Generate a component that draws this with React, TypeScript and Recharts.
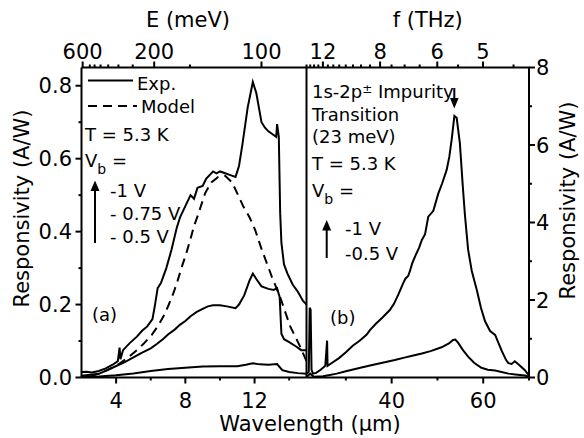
import React from "react";
import { LineChart, Line, XAxis, YAxis } from "recharts";

// ---- panel (a): 2–15 µm, left axis in A/W ----
const aWl1 = [2.0, 2.3, 2.6, 3.0, 3.4, 3.8, 4.1, 4.2, 4.25, 4.4, 4.8, 5.2, 5.5, 5.8, 6.1, 6.25, 6.4, 6.6, 6.9, 7.2, 7.5, 7.7, 8.0, 8.3, 8.5, 8.7, 9.0, 9.2, 9.4, 9.6, 9.8, 10.0, 10.3, 10.6, 10.9, 11.1, 11.3, 11.6, 11.9, 12.1, 12.4, 12.6, 12.8, 13.1, 13.25, 13.3, 13.4, 13.48, 13.55, 13.7, 13.9, 14.2, 14.5, 14.8, 15.0];
const aR1 = [0.015, 0.016, 0.014, 0.018, 0.025, 0.035, 0.045, 0.082, 0.05, 0.075, 0.095, 0.112, 0.128, 0.14, 0.16, 0.2, 0.245, 0.26, 0.3, 0.35, 0.41, 0.44, 0.47, 0.5, 0.49, 0.52, 0.525, 0.545, 0.555, 0.565, 0.56, 0.565, 0.56, 0.555, 0.55, 0.58, 0.64, 0.74, 0.81, 0.78, 0.7, 0.685, 0.675, 0.665, 0.66, 0.695, 0.66, 0.45, 0.37, 0.31, 0.285, 0.255, 0.235, 0.21, 0.2];

const aWl2 = [2.0, 3.0, 3.85, 4.5, 5.0, 5.5, 6.0, 6.35, 6.7, 7.0, 7.4, 7.7, 8.0, 8.3, 8.66, 9.0, 9.3, 9.6, 10.0, 10.4, 10.9, 11.1, 11.4, 11.7, 11.9, 12.1, 12.4, 12.8, 13.1, 13.3, 13.45, 13.55, 13.7, 14.0, 14.4, 14.7, 15.0];
const aR2 = [0.005, 0.01, 0.028, 0.042, 0.055, 0.068, 0.08, 0.092, 0.105, 0.118, 0.132, 0.145, 0.155, 0.168, 0.18, 0.188, 0.195, 0.198, 0.198, 0.195, 0.19, 0.2, 0.225, 0.265, 0.285, 0.27, 0.25, 0.243, 0.24, 0.245, 0.22, 0.12, 0.105, 0.097, 0.085, 0.075, 0.075];

const aWl3 = [2.0, 3.0, 4.0, 5.0, 6.0, 7.0, 8.0, 9.0, 10.0, 11.0, 11.5, 11.9, 12.3, 12.8, 13.3, 13.6, 14.0, 14.5, 15.0];
const aR3 = [0.002, 0.003, 0.006, 0.011, 0.018, 0.023, 0.027, 0.03, 0.031, 0.031, 0.035, 0.039, 0.036, 0.035, 0.037, 0.02, 0.015, 0.012, 0.01];

const modelWl = [2.5, 3.0, 3.5, 4.2, 4.7, 5.2, 5.6, 6.06, 6.4, 6.73, 7.0, 7.31, 7.55, 7.8, 8.05, 8.28, 8.5, 8.76, 9.14, 9.5, 9.9, 10.3, 10.7, 11.0, 11.36, 11.7, 12.03, 12.42, 13.0, 13.48, 14.06, 14.64, 15.0];
const modelR = [0.003, 0.01, 0.02, 0.038, 0.055, 0.075, 0.093, 0.117, 0.14, 0.167, 0.195, 0.231, 0.265, 0.304, 0.34, 0.377, 0.415, 0.45, 0.505, 0.535, 0.55, 0.553, 0.535, 0.505, 0.468, 0.44, 0.405, 0.35, 0.276, 0.22, 0.14, 0.084, 0.045];

// ---- panel (b): 21.4–70 µm, right axis in A/W ----
const bWl1 = [21.5, 21.9, 22.1, 22.3, 22.5, 22.8, 23.5, 24.5, 25.5, 25.9, 26.0, 27.0, 28.5, 30.0, 31.5, 33.0, 34.5, 35.3, 36.5, 38.0, 39.6, 40.5, 41.5, 42.5, 43.0, 43.6, 44.0, 44.5, 45.1, 46.0, 46.6, 47.3, 48.0, 49.1, 50.2, 51.0, 52.0, 52.6, 53.1, 53.7, 54.2, 54.9, 55.5, 56.0, 56.7, 57.5, 58.6, 59.5, 60.4, 61.5, 62.6, 63.3, 64.0, 65.0, 65.5, 66.2, 66.9, 67.8, 69.1, 70.0];
const bR1 = [0.1, 0.15, 1.8, 1.75, 0.2, 0.1, 0.12, 0.2, 0.3, 0.95, 0.3, 0.38, 0.5, 0.65, 0.82, 0.95, 1.1, 1.23, 1.38, 1.55, 1.74, 1.9, 2.15, 2.43, 2.55, 2.62, 2.75, 2.95, 3.12, 3.35, 3.55, 3.7, 4.15, 4.3, 4.75, 5.0, 5.35, 5.7, 6.13, 6.75, 6.7, 6.05, 5.0, 4.2, 3.3, 2.75, 2.26, 1.8, 1.45, 1.2, 1.1, 0.9, 0.7, 0.45, 0.37, 0.35, 0.42, 0.33, 0.19, 0.05];

const bWl2 = [21.5, 22.2, 23.0, 25.0, 26.2, 28.0, 30.0, 33.4, 36.0, 38.0, 40.7, 43.0, 44.5, 46.6, 48.5, 50.9, 52.5, 53.4, 53.9, 54.5, 55.5, 56.7, 58.0, 59.6, 61.0, 62.6, 64.0, 65.5, 67.0, 69.1, 70.0];
const bR2 = [0.02, 0.1, 0.02, 0.03, 0.06, 0.1, 0.16, 0.26, 0.33, 0.38, 0.45, 0.52, 0.56, 0.62, 0.68, 0.78, 0.88, 0.97, 0.98, 0.9, 0.72, 0.54, 0.38, 0.25, 0.2, 0.18, 0.14, 0.1, 0.08, 0.05, 0.02];

// ---- ticks ----
const aWlTicks = [4, 6, 8, 10, 12, 14];
const aWlLabels = [4, 8, 12];
const bWlTicks = [30, 40, 50, 60, 70];
const bWlLabels = [40, 60];
const energyTicks = [600, 500, 450, 400, 350, 300, 250, 200, 150, 100]; // meV
const energyLabels = [600, 200, 100];
const freqTicks = [14, 13.5, 13, 12.5, 12, 11.5, 11, 10.5, 10, 9.5, 9, 8.5, 8, 7.5, 7, 6.5, 6, 5.5, 5, 4.5]; // THz
const freqLabels = [12, 8, 6, 5];
const leftTicks = [0, 0.1, 0.2, 0.3, 0.4, 0.5, 0.6, 0.7, 0.8];
const leftLabels = [0, 0.2, 0.4, 0.6, 0.8];
const rightTicks = [0, 1, 2, 3, 4, 5, 6, 7, 8];
const rightLabels = [0, 2, 4, 6, 8];

const zip = (xs: number[], ys: number[]) => xs.map((x, i) => ({ x, r: ys[i] }));

const FS = 21;
const AX = { stroke: "#000", strokeWidth: 2 };

type Side = "top" | "bottom" | "left" | "right";

function makeTick(side: Side, gap: number, fmt: (v: number) => string) {
  return (p: any) => {
    const v = p.payload.value;
    const txt = fmt(v);
    const len = txt ? 6 : 3;
    let line;
    let text = null;
    if (side === "bottom") {
      const ay = p.y - gap;
      line = <line x1={p.x} x2={p.x} y1={ay} y2={ay + len} {...AX} />;
      if (txt) text = <text x={p.x} y={p.y + FS * 0.73} textAnchor="middle" fontSize={FS} fill="#000">{txt}</text>;
    } else if (side === "top") {
      const ay = p.y + gap;
      line = <line x1={p.x} x2={p.x} y1={ay} y2={ay - len} {...AX} />;
      if (txt) text = <text x={p.x} y={p.y} textAnchor="middle" fontSize={FS} fill="#000">{txt}</text>;
    } else if (side === "left") {
      const ax = p.x + gap;
      line = <line x1={ax} x2={ax - len} y1={p.y} y2={p.y} {...AX} />;
      if (txt) text = <text x={p.x} y={p.y + FS * 0.365} textAnchor="end" fontSize={FS} fill="#000">{txt}</text>;
    } else {
      const ax = p.x - gap;
      line = <line x1={ax} x2={ax + len} y1={p.y} y2={p.y} {...AX} />;
      if (txt) text = <text x={p.x} y={p.y + FS * 0.365} textAnchor="start" fontSize={FS} fill="#000">{txt}</text>;
    }
    return (
      <g>
        {line}
        {text}
      </g>
    );
  };
}

const near = (list: number[], v: number) => list.some((t) => Math.abs(t - v) < 1e-6);

const PLOT_TOP = 67.5;
const PLOT_BOTTOM_H = 60.5;

export default function App() {
  const lineProps = {
    type: "linear" as const,
    dataKey: "r",
    stroke: "#000",
    strokeWidth: 2,
    dot: false,
    isAnimationActive: false,
  };
  // invisible copies so the top (energy / frequency) axes get a scale
  const ghost = { ...lineProps, stroke: "none", legendType: "none" as const };

  return (
    <div
      style={{
        position: "absolute",
        left: 0,
        top: 0,
        width: 584,
        height: 438,
        background: "#fff",
        fontFamily: "'DejaVu Sans', sans-serif",
      }}
    >
      {/* panel (a) */}
      <div style={{ position: "absolute", left: 0, top: 0 }}>
        <LineChart width={584} height={438} margin={{ top: 0, right: 277.5, bottom: 0, left: 0 }}>
          <XAxis
            xAxisId="b"
            dataKey="x"
            type="number"
            orientation="bottom"
            domain={[2, 15]}
            allowDataOverflow
            ticks={aWlTicks}
            interval={0}
            height={PLOT_BOTTOM_H}
            axisLine={AX}
            tickLine={false}
            tickSize={0}
            tickMargin={15}
            tick={makeTick("bottom", 15, (v) => (near(aWlLabels, v) ? String(v) : ""))}
            label={{ value: "Wavelength (\u03bcm)", position: "insideBottom", offset: 7, dx: 116, fontSize: FS, fill: "#000" }}
          />
          <XAxis
            xAxisId="t"
            dataKey="x"
            type="number"
            orientation="top"
            domain={[2, 15]}
            allowDataOverflow
            ticks={energyTicks.map((e) => 1240 / e)}
            interval={0}
            height={PLOT_TOP}
            axisLine={AX}
            tickLine={false}
            tickSize={0}
            tickMargin={9}
            tick={makeTick("top", 9, (v) => {
              const e = Math.round(1240 / v);
              return near(energyLabels, e) ? String(e) : "";
            })}
            label={{ value: "E (meV)", position: "insideTop", offset: 12, dx: -6, fontSize: FS, fill: "#000" }}
          />
          <YAxis
            yAxisId="l"
            type="number"
            domain={[0, 0.85]}
            allowDataOverflow
            ticks={leftTicks}
            interval={0}
            width={81.5}
            axisLine={AX}
            tickLine={false}
            tickSize={0}
            tickMargin={9.5}
            tick={makeTick("left", 9.5, (v) => (near(leftLabels, v) ? v.toFixed(1) : ""))}
            label={{ value: "Responsivity (A/W)", angle: -90, position: "insideLeft", offset: 22, dy: -14, fontSize: FS, fill: "#000", style: { textAnchor: "middle" } }}
          />
          <Line {...ghost} xAxisId="t" yAxisId="l" data={zip(aWl1, aR1)} />
          <Line {...lineProps} xAxisId="b" yAxisId="l" data={zip(aWl1, aR1)} name="-1 V" />
          <Line {...lineProps} xAxisId="b" yAxisId="l" data={zip(aWl2, aR2)} name="-0.75 V" />
          <Line {...lineProps} xAxisId="b" yAxisId="l" data={zip(aWl3, aR3)} name="-0.5 V" />
          <Line {...lineProps} xAxisId="b" yAxisId="l" data={zip(modelWl, modelR)} name="Model" strokeDasharray="9 6" />
        </LineChart>
      </div>

      {/* panel (b) */}
      <div style={{ position: "absolute", left: 0, top: 0 }}>
        <LineChart width={584} height={438} margin={{ top: 0, right: 0, bottom: 0, left: 306 }}>
          <XAxis
            xAxisId="b"
            dataKey="x"
            type="number"
            orientation="bottom"
            domain={[21.4, 70]}
            allowDataOverflow
            ticks={bWlTicks}
            interval={0}
            height={PLOT_BOTTOM_H}
            axisLine={AX}
            tickLine={false}
            tickSize={0}
            tickMargin={15}
            tick={makeTick("bottom", 15, (v) => (near(bWlLabels, v) ? String(v) : ""))}
          />
          <XAxis
            xAxisId="t"
            dataKey="x"
            type="number"
            orientation="top"
            domain={[21.4, 70]}
            allowDataOverflow
            ticks={freqTicks.map((f) => 299.79 / f)}
            interval={0}
            height={PLOT_TOP}
            axisLine={AX}
            tickLine={false}
            tickSize={0}
            tickMargin={9}
            tick={makeTick("top", 9, (v) => {
              const f = Math.round((299.79 / v) * 2) / 2;
              return near(freqLabels, f) ? String(f) : "";
            })}
            label={{ value: "f (THz)", position: "insideTop", offset: 12, dx: 10, fontSize: FS, fill: "#000" }}
          />
          <YAxis
            yAxisId="d"
            type="number"
            domain={[0, 8]}
            allowDataOverflow
            width={0.5}
            axisLine={AX}
            tick={false}
            tickLine={false}
          />
          <YAxis
            yAxisId="r"
            type="number"
            orientation="right"
            domain={[0, 8]}
            allowDataOverflow
            ticks={rightTicks}
            interval={0}
            width={55}
            axisLine={AX}
            tickLine={false}
            tickSize={0}
            tickMargin={7}
            tick={makeTick("right", 7, (v) => (near(rightLabels, v) ? String(v) : ""))}
            label={{ value: "Responsivity (A/W)", angle: -90, position: "insideRight", offset: 16, dy: -22, fontSize: FS, fill: "#000", style: { textAnchor: "middle" } }}
          />
          <Line {...ghost} xAxisId="t" yAxisId="r" data={zip(bWl1, bR1)} />
          <Line {...ghost} xAxisId="b" yAxisId="d" data={zip(bWl1, bR1)} />
          <Line {...lineProps} xAxisId="b" yAxisId="r" data={zip(bWl1, bR1)} name="-1 V" />
          <Line {...lineProps} xAxisId="b" yAxisId="r" data={zip(bWl2, bR2)} name="-0.5 V" />
        </LineChart>
      </div>

      {/* annotations */}
      <svg width={584} height={438} style={{ position: "absolute", left: 0, top: 0, pointerEvents: "none" }}>
        <g fontSize={18} fill="#000">
          <line x1={88} x2={133} y1={80.5} y2={80.5} stroke="#000" strokeWidth={2} />
          <text x={137} y={90}>Exp.</text>
          <line x1={88} x2={137} y1={106} y2={106} stroke="#000" strokeWidth={2} strokeDasharray="9 6" />
          <text x={141} y={113}>Model</text>
          <text x={85} y={141}>T = 5.3 K</text>
          <text x={85} y={167}>
            V<tspan fontSize={14} dy={7}>b</tspan>
            <tspan dy={-7}> =</tspan>
          </text>
          <line x1={95} x2={95} y1={243} y2={189} stroke="#000" strokeWidth={2} />
          <polygon points="95,180.5 90.5,191 99.5,191" fill="#000" />
          <text x={110} y={197}>-1 V</text>
          <text x={110} y={220}>- 0.75 V</text>
          <text x={110} y={243}>- 0.5 V</text>
          <text x={92} y={321}>(a)</text>

          <text x={312} y={98}>
            1s-2p<tspan fontSize={12} dy={-5}>±</tspan>
            <tspan dy={5}> Impurity</tspan>
          </text>
          <text x={312} y={121}>Transition</text>
          <text x={312} y={143}>(23 meV)</text>
          <text x={312} y={170}>T = 5.3 K</text>
          <text x={312} y={197}>
            V<tspan fontSize={14} dy={7}>b</tspan>
            <tspan dy={-7}> =</tspan>
          </text>
          <line x1={326.7} x2={326.7} y1={258} y2={228} stroke="#000" strokeWidth={2} />
          <polygon points="326.7,220 322.2,230.5 331.2,230.5" fill="#000" />
          <text x={345} y={235}>-1 V</text>
          <text x={345} y={260}>-0.5 V</text>
          <text x={330} y={324}>(b)</text>
          <line x1={454.3} x2={454.3} y1={88} y2={100} stroke="#000" strokeWidth={2} />
          <polygon points="454.3,108.5 450,98 458.6,98" fill="#000" />
        </g>
      </svg>
    </div>
  );
}
